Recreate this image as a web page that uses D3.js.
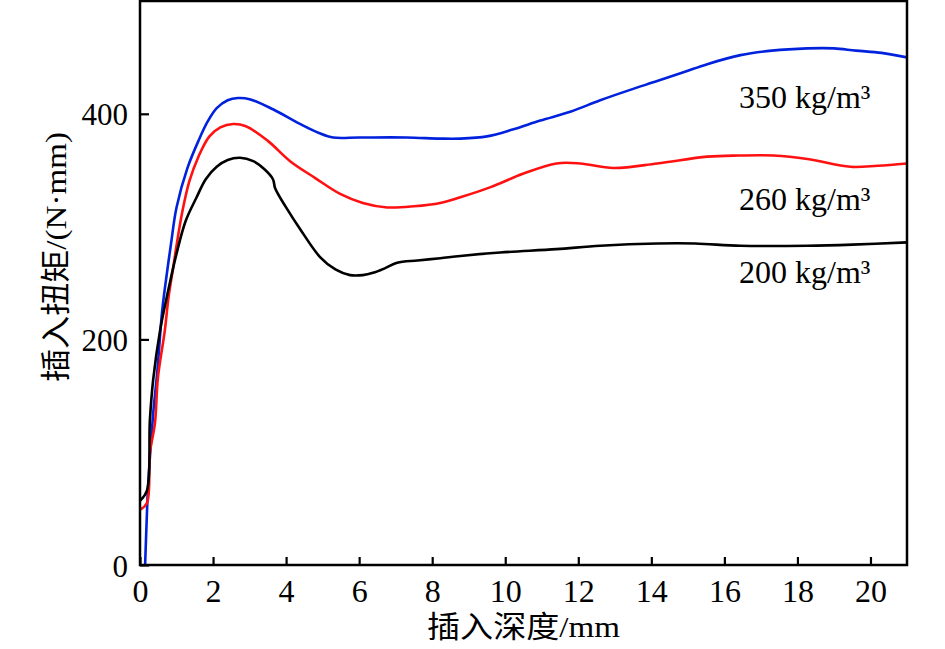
<!DOCTYPE html>
<html>
<head>
<meta charset="utf-8">
<script src="https://cdn.jsdelivr.net/npm/d3@7"></script>
<style>
  body { margin: 0; background: #fff; }
  text { font-family: "Liberation Serif", "Noto Sans CJK SC", serif; fill: #000; }
</style>
</head>
<body>
<div id="chart"></div>
<script>
// Insertion depth (mm) and torque (N·mm)
const depth350 = [0.14, 0.19, 0.22, 0.36, 0.47, 0.6, 0.68, 0.85, 1.0, 1.3, 1.6, 1.85, 2.1, 2.4, 2.68, 3.0, 3.64, 4.38, 4.9, 5.29, 6.0, 7.3, 8.22, 8.77, 9.5, 10.2, 10.96, 11.8, 12.6, 13.4, 14.16, 14.9, 15.53, 16.44, 17.3, 18.27, 19.0, 19.6, 20.3, 21];
const torque350 = [0, 46, 69, 134, 170, 223, 245, 285, 317, 352, 376, 393, 405, 412, 414, 413, 404, 391, 383, 379, 379, 379, 378, 378, 380, 386, 394, 402, 412, 421, 429, 437, 444, 452, 456, 458, 458, 456, 454, 450];

const depth260 = [0, 0.19, 0.27, 0.41, 0.49, 0.68, 0.78, 0.9, 1.14, 1.35, 1.6, 1.9, 2.2, 2.55, 2.9, 3.5, 4.11, 4.8, 5.48, 6.1, 6.77, 7.5, 8.22, 8.77, 9.6, 10.5, 11.4, 12.05, 12.96, 14.16, 15.53, 16.4, 17.35, 18.27, 19.45, 20.2, 21];
const torque260 = [49, 55, 99, 126, 166, 208, 237, 262, 310, 340, 362, 380, 388, 391, 389, 376, 358, 343, 329, 321, 317, 318, 321, 326, 335, 347, 356, 356, 352, 356, 362, 363, 363, 360, 353, 354, 356];

const depth200 = [0, 0.19, 0.27, 0.36, 0.55, 0.75, 1.0, 1.25, 1.55, 1.8, 2.1, 2.4, 2.74, 3.1, 3.4, 3.64, 3.7, 4.0, 4.4, 4.93, 5.35, 5.75, 6.1, 6.38, 6.7, 7.04, 7.6, 8.22, 8.77, 9.86, 11.4, 12.6, 14.16, 15.2, 16.44, 18.27, 19.5, 21];
const torque200 = [57, 66, 128, 164, 208, 240, 276, 305, 326, 342, 353, 359, 361, 358, 351, 342, 334, 317, 297, 273, 262, 257, 257, 259, 263, 268, 270, 272, 274, 277, 280, 283, 285, 285, 283, 283, 284, 286];

const seriesNames = ["350 kg/m³", "260 kg/m³", "200 kg/m³"];
const seriesColors = ["#0022dd", "#ff1111", "#000000"];
const labelTorque = [405, 315, 250];
const xTicks = [0, 2, 4, 6, 8, 10, 12, 14, 16, 18, 20];
const yTicks = [0, 200, 400];
const xTitle = "插入深度/mm";
const yTitle = "插入扭矩/(N·mm)";

const series = [
  { name: seriesNames[0], color: seriesColors[0], x: depth350, y: torque350, labelY: labelTorque[0] },
  { name: seriesNames[1], color: seriesColors[1], x: depth260, y: torque260, labelY: labelTorque[1] },
  { name: seriesNames[2], color: seriesColors[2], x: depth200, y: torque200, labelY: labelTorque[2] }
];

const width = 945, height = 649;
const margin = { top: 1, right: 38, bottom: 84, left: 140 };
const iw = width - margin.left - margin.right;
const ih = height - margin.top - margin.bottom;

const svg = d3.select("#chart").append("svg")
  .attr("width", width)
  .attr("height", height);

const g = svg.append("g").attr("transform", `translate(${margin.left},${margin.top})`);

const x = d3.scaleLinear().domain([0, 21]).range([0, iw]);
const y = d3.scaleLinear().domain([0, 500]).range([ih, 0]);

// clip the curves to the frame
svg.append("defs").append("clipPath").attr("id", "plot")
  .append("rect").attr("width", iw).attr("height", ih);

const line = d3.line()
  .x(d => x(d[0]))
  .y(d => y(d[1]))
  .curve(d3.curveCatmullRom.alpha(0.5));

g.append("g").attr("clip-path", "url(#plot)")
  .selectAll("path").data(series).join("path")
  .attr("fill", "none")
  .attr("stroke", d => d.color)
  .attr("stroke-width", 2.6)
  .attr("stroke-linejoin", "round")
  .attr("d", d => line(d.x.map((v, i) => [v, d.y[i]])));

// Axes, ticks pointing inward
const xAxis = g.append("g").attr("transform", `translate(0,${ih})`)
  .call(d3.axisBottom(x).tickValues(xTicks).tickSizeInner(-8).tickSizeOuter(0).tickPadding(14));
const yAxis = g.append("g")
  .call(d3.axisLeft(y).tickValues(yTicks).tickSizeInner(-9).tickSizeOuter(0).tickPadding(12));

[xAxis, yAxis].forEach(a => {
  a.select(".domain").remove();
  a.selectAll(".tick line").attr("stroke", "#000").attr("stroke-width", 2.2);
  a.selectAll(".tick text").style("font-family", "Liberation Serif").attr("fill", "#000");
});
xAxis.selectAll(".tick text").style("font-size", "32px").attr("dy", "0.71em");
yAxis.selectAll(".tick text").style("font-size", "31px").attr("dy", "0.36em");

// frame
g.append("rect")
  .attr("width", iw).attr("height", ih)
  .attr("fill", "none")
  .attr("stroke", "#000")
  .attr("stroke-width", 2.5);

// series labels
g.selectAll(".lab").data(series).join("text")
  .attr("class", "lab")
  .attr("x", x(16.4))
  .attr("y", d => y(d.labelY))
  .style("font-size", "32px")
  .text(d => d.name);

// axis titles
svg.append("text")
  .attr("x", margin.left + x(10.5))
  .attr("y", 637)
  .attr("text-anchor", "middle")
  .attr("textLength", 193)
  .attr("lengthAdjust", "spacingAndGlyphs")
  .style("font-size", "30px")
  .text(xTitle);

svg.append("text")
  .attr("transform", `translate(66,257) rotate(-90)`)
  .attr("text-anchor", "middle")
  .attr("textLength", 250)
  .attr("lengthAdjust", "spacingAndGlyphs")
  .style("font-size", "30px")
  .text(yTitle);
</script>
</body>
</html>
